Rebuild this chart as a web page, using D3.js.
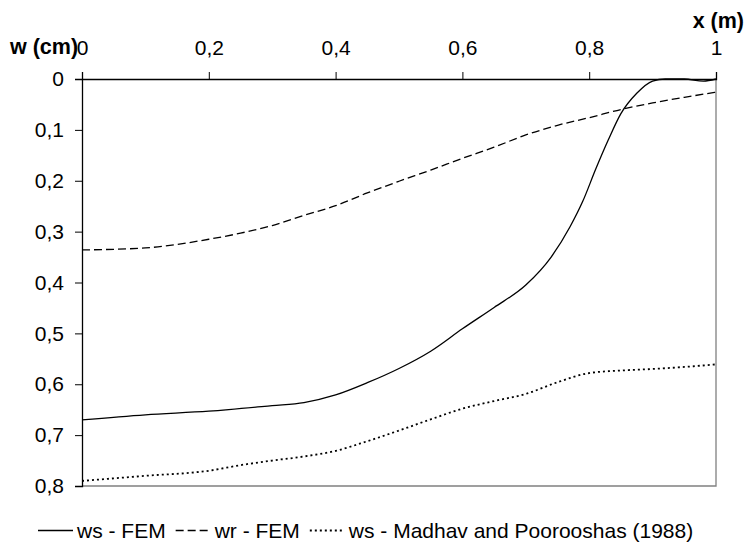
<!DOCTYPE html>
<html>
<head>
    <script src="https://d3js.org/d3.v7.min.js"></script>
    <style>
        body { margin: 0; background: #fff; }
        svg text { font-family: "Liberation Sans", Arial, sans-serif; }
    </style>
</head>
<body>
    <div id="chart"></div>
    <script>
        // series (x in m, w in cm)
        const wsFemX = [0, 0.1, 0.2, 0.3, 0.35, 0.4, 0.45, 0.5, 0.55, 0.6, 0.65, 0.7, 0.74, 0.77, 0.79, 0.81, 0.83, 0.85, 0.875, 0.9, 0.92, 0.95, 0.98, 1]
        const wsFemW = [0.670, 0.660, 0.653, 0.642, 0.636, 0.621, 0.597, 0.569, 0.535, 0.491, 0.449, 0.405, 0.350, 0.290, 0.240, 0.178, 0.120, 0.068, 0.028, 0.004, 0, 0, 0.004, 0]

        const wrFemX = [0, 0.1, 0.2, 0.25, 0.3, 0.35, 0.4, 0.45, 0.5, 0.55, 0.6, 0.65, 0.7, 0.75, 0.8, 0.85, 0.9, 0.95, 1]
        const wrFemW = [0.336, 0.332, 0.315, 0.303, 0.288, 0.268, 0.249, 0.224, 0.201, 0.179, 0.156, 0.134, 0.110, 0.091, 0.076, 0.060, 0.047, 0.036, 0.026]

        const wsMadX = [0, 0.1, 0.2, 0.25, 0.3, 0.35, 0.4, 0.45, 0.5, 0.55, 0.6, 0.65, 0.7, 0.75, 0.8, 0.85, 0.9, 0.95, 1]
        const wsMadW = [0.790, 0.780, 0.770, 0.759, 0.750, 0.742, 0.731, 0.712, 0.691, 0.669, 0.648, 0.633, 0.619, 0.596, 0.578, 0.573, 0.570, 0.566, 0.561]

        const xTicks = [0, 0.2, 0.4, 0.6, 0.8, 1]
        const yTicks = [0, 0.1, 0.2, 0.3, 0.4, 0.5, 0.6, 0.7, 0.8]
        const seriesNames = ["ws - FEM", "wr - FEM", "ws - Madhav and Poorooshas (1988)"]
        const dashes = [null, "8,4", "2,3"]

        const W = 746, H = 543
        const plotLeft = 82, plotRight = 716, plotTop = 79, plotBottom = 486
        const fontSize = "21px"

        const svg = d3.select("#chart").append("svg")
            .attr("width", W).attr("height", H)

        const x = d3.scaleLinear().domain([0, 1]).range([plotLeft, plotRight])
        const y = d3.scaleLinear().domain([0, 0.8]).range([plotTop, plotBottom])

        const fmt = d => d === 0 || d === 1 ? String(d) : String(d).replace(".", ",")

        // plot frame (right and bottom edges in grey)
        svg.append("path")
            .attr("d", `M${plotRight},${plotTop}V${plotBottom}H${plotLeft}`)
            .attr("fill", "none").attr("stroke", "#808080").attr("stroke-width", 1.3)

        // top axis
        const xAxis = svg.append("g")
            .attr("transform", `translate(0,${plotTop})`)
            .call(d3.axisTop(x).tickValues(xTicks).tickFormat(fmt).tickSize(7).tickPadding(17))
        xAxis.select(".domain").attr("stroke-width", 1.3)
        xAxis.selectAll("text").style("font-size", fontSize).attr("fill", "#000")

        // left axis
        const yAxis = svg.append("g")
            .attr("transform", `translate(${plotLeft},0)`)
            .call(d3.axisLeft(y).tickValues(yTicks).tickFormat(fmt).tickSize(7).tickPadding(11))
        yAxis.select(".domain").attr("stroke-width", 1.3)
        yAxis.selectAll("text").style("font-size", fontSize).attr("fill", "#000")

        // axis titles
        svg.append("text").attr("x", 10).attr("y", 54)
            .style("font-size", "21.5px").style("font-weight", "bold").text("w (cm)")
        svg.append("text").attr("x", 744).attr("y", 28).attr("text-anchor", "end")
            .style("font-size", "21.5px").style("font-weight", "bold").text("x (m)")

        // lines
        const line = d3.line().x(d => x(d[0])).y(d => y(d[1])).curve(d3.curveMonotoneX)
        const series = [
            d3.zip(wsFemX, wsFemW),
            d3.zip(wrFemX, wrFemW),
            d3.zip(wsMadX, wsMadW)
        ]
        series.forEach((s, i) => {
            svg.append("path")
                .datum(s)
                .attr("d", line)
                .attr("fill", "none")
                .attr("stroke", "#000")
                .attr("stroke-width", i === 2 ? 1.8 : 1.3)
                .attr("stroke-dasharray", dashes[i])
        })

        // legend, laid out left to right
        let lx = 38
        const ly = 530.5
        seriesNames.forEach((name, i) => {
            svg.append("line")
                .attr("x1", lx).attr("x2", lx + 35).attr("y1", ly).attr("y2", ly)
                .attr("stroke", "#000").attr("stroke-width", i === 2 ? 1.8 : 1.3)
                .attr("stroke-dasharray", dashes[i])
            const t = svg.append("text").attr("x", lx + 39).attr("y", ly + 7.5)
                .style("font-size", fontSize).text(name)
            lx += 39 + t.node().getComputedTextLength() + 10
        })
    </script>
</body>
</html>
